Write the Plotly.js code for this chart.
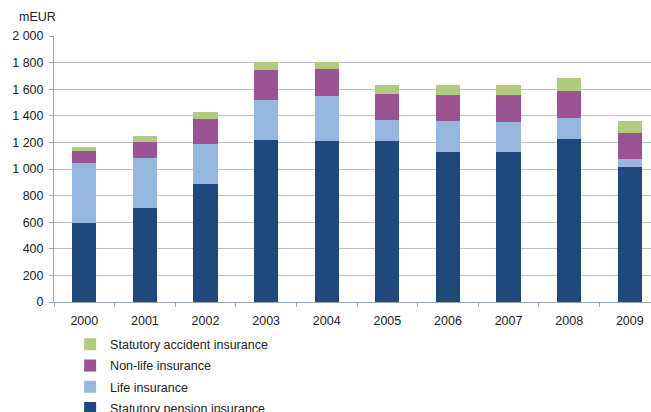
<!DOCTYPE html>
<html>
<head>
<meta charset="utf-8">
<script src="https://cdn.plot.ly/plotly-3.0.1.min.js"></script>
<style>html,body{margin:0;padding:0;background:#fff;}#chart{width:651px;height:412px;}</style>
</head>
<body>
<div id="chart"></div>
<script>
var years = ['2000','2001','2002','2003','2004','2005','2006','2007','2008','2009'];
var pension = [596, 708, 891, 1216, 1211, 1214, 1126, 1126, 1229, 1016];
var life = [450, 371, 298, 306, 336, 153, 236, 231, 155, 60];
var nonLife = [88, 125, 190, 225, 205, 200, 197, 202, 200, 198];
var accident = [35, 42, 50, 58, 53, 62, 70, 70, 98, 88];
var seriesNames = ['Statutory pension insurance', 'Life insurance', 'Non-life insurance', 'Statutory accident insurance'];
var seriesColors = ['#1F497D', '#95B7E0', '#9B5394', '#B0CB7E'];
var yTicks = [0, 200, 400, 600, 800, 1000, 1200, 1400, 1600, 1800, 2000];

var seriesValues = [pension, life, nonLife, accident];
var traces = seriesValues.map(function (vals, i) {
  return {
    type: 'bar',
    x: years,
    y: vals,
    name: seriesNames[i],
    legendgroup: 'g' + i,
    legendrank: 100 * (seriesValues.length - i),
    width: 0.4,
    marker: {color: seriesColors[i], line: {width: 0}},
    hoverinfo: 'x+y+name'
  };
});

var layout = {
  width: 651,
  height: 412,
  barmode: 'stack',
  paper_bgcolor: '#ffffff',
  plot_bgcolor: '#ffffff',
  font: {family: 'Liberation Sans, Arial, sans-serif', size: 12, color: '#222222'},
  margin: {l: 54, r: 0, t: 36, b: 110},
  showlegend: true,
  legend: {
    traceorder: 'grouped',
    orientation: 'v',
    xref: 'paper', yref: 'container',
    x: 0.027, y: 0.2,
    xanchor: 'left', yanchor: 'top',
    font: {size: 12.5, color: '#222222'},
    bgcolor: 'rgba(0,0,0,0)',
    tracegroupgap: 2,
    itemclick: false
  },
  xaxis: {
    type: 'category',
    range: [-0.5, 9.35],
    showline: true,
    linecolor: '#9AA6B0',
    linewidth: 1,
    ticks: 'outside',
    tickson: 'boundaries',
    ticklen: 4,
    tickcolor: '#9AA6B0',
    showgrid: false,
    ticklabelstandoff: 7,
    tickfont: {size: 12.5, color: '#222222'},
    fixedrange: true
  },
  yaxis: {
    range: [0, 2000],
    tickvals: yTicks,
    separatethousands: true,
    showline: true,
    linecolor: '#9AA6B0',
    linewidth: 1,
    ticks: 'outside',
    ticklen: 4,
    tickcolor: '#9AA6B0',
    showgrid: true,
    gridcolor: '#B9C1C8',
    gridwidth: 1,
    zeroline: false,
    ticklabelstandoff: 3,
    tickfont: {size: 12.5, color: '#222222'},
    fixedrange: true
  },
  separators: '. ',
  annotations: [{
    text: 'mEUR',
    xref: 'paper', yref: 'paper',
    x: -0.062, y: 1.071,
    xanchor: 'left', yanchor: 'middle',
    showarrow: false,
    font: {size: 12.5, color: '#222222'}
  }]
};

Plotly.newPlot('chart', traces, layout, {displayModeBar: false, staticPlot: true});
</script>
</body>
</html>
